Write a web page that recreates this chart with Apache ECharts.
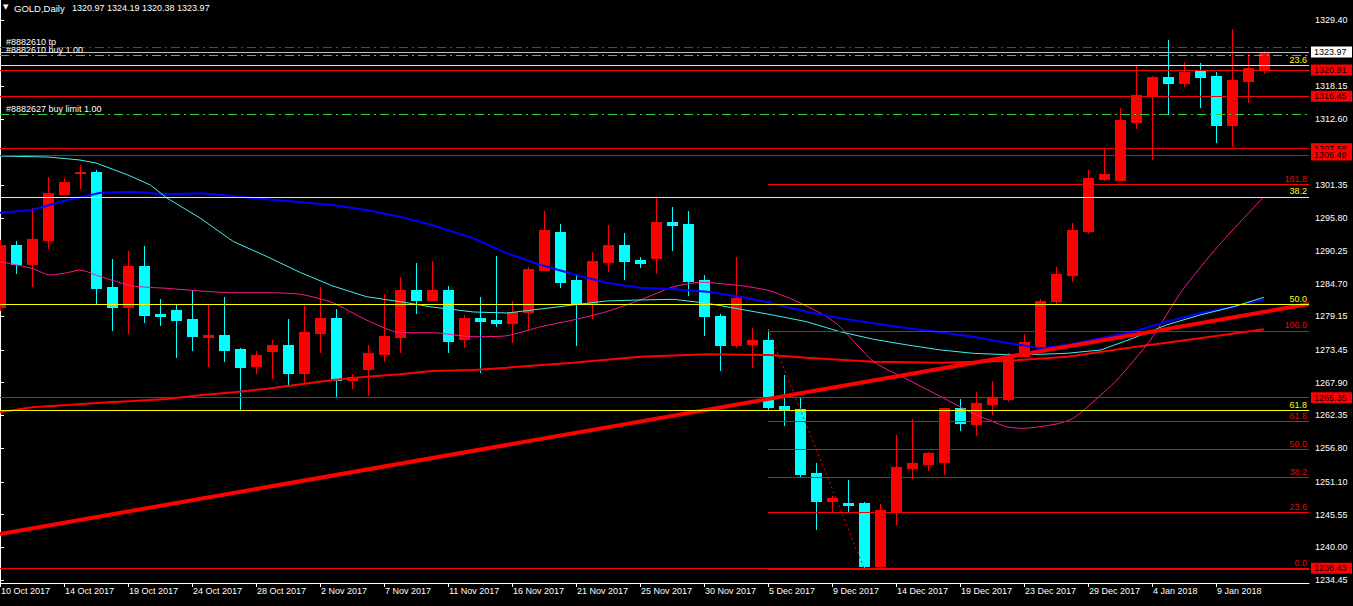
<!DOCTYPE html>
<html><head><meta charset="utf-8">
<script src="https://cdn.jsdelivr.net/npm/echarts@6/dist/echarts.min.js"></script>
<style>html,body{margin:0;padding:0;background:#000;}#c{width:1353px;height:606px;}</style>
</head><body><div id="c"></div>
<script>
const symbolName = 'GOLD,Daily';
const dates = ['10 Oct 2017','11 Oct 2017','12 Oct 2017','13 Oct 2017','14 Oct 2017','16 Oct 2017','17 Oct 2017','18 Oct 2017','19 Oct 2017','20 Oct 2017','21 Oct 2017','23 Oct 2017','24 Oct 2017','25 Oct 2017','26 Oct 2017','27 Oct 2017','28 Oct 2017','30 Oct 2017','31 Oct 2017','1 Nov 2017','2 Nov 2017','3 Nov 2017','4 Nov 2017','6 Nov 2017','7 Nov 2017','8 Nov 2017','9 Nov 2017','10 Nov 2017','11 Nov 2017','13 Nov 2017','14 Nov 2017','15 Nov 2017','16 Nov 2017','17 Nov 2017','18 Nov 2017','20 Nov 2017','21 Nov 2017','22 Nov 2017','23 Nov 2017','24 Nov 2017','25 Nov 2017','27 Nov 2017','28 Nov 2017','29 Nov 2017','30 Nov 2017','1 Dec 2017','2 Dec 2017','4 Dec 2017','5 Dec 2017','6 Dec 2017','7 Dec 2017','8 Dec 2017','9 Dec 2017','11 Dec 2017','12 Dec 2017','13 Dec 2017','14 Dec 2017','15 Dec 2017','16 Dec 2017','18 Dec 2017','19 Dec 2017','20 Dec 2017','21 Dec 2017','22 Dec 2017','23 Dec 2017','26 Dec 2017','27 Dec 2017','28 Dec 2017','29 Dec 2017','30 Dec 2017','2 Jan 2018','3 Jan 2018','4 Jan 2018','5 Jan 2018','6 Jan 2018','8 Jan 2018','9 Jan 2018','10 Jan 2018','11 Jan 2018','12 Jan 2018'];
const opens = [1280.74,1291.25,1288.08,1292.15,1299.95,1303.54,1303.63,1284.13,1280.79,1287.69,1279.60,1280.23,1278.70,1275.70,1276.04,1273.62,1270.79,1273.33,1274.30,1269.60,1276.38,1278.87,1268.41,1270.28,1272.82,1275.70,1283.62,1281.98,1283.62,1275.36,1278.87,1278.53,1278.08,1279.89,1287.06,1293.45,1285.32,1281.25,1288.42,1291.25,1288.71,1289.10,1295.15,1294.81,1285.32,1279.21,1274.35,1274.52,1275.14,1263.95,1263.44,1252.59,1247.85,1247.56,1247.51,1236.88,1246.20,1253.49,1254.17,1254.51,1263.61,1260.95,1264.34,1265.14,1272.48,1274.13,1281.76,1286.16,1293.62,1302.44,1302.27,1312.10,1316.63,1319.73,1318.72,1320.92,1319.90,1311.60,1319.06,1320.97];
const highs = [1292.10,1291.93,1297.47,1302.78,1302.66,1304.81,1303.97,1288.88,1290.23,1291.08,1282.09,1281.08,1283.62,1281.13,1282.48,1273.79,1273.28,1275.14,1278.70,1280.91,1284.13,1280.40,1269.43,1274.30,1282.94,1285.82,1288.20,1288.54,1284.30,1279.38,1282.43,1289.39,1281.76,1287.52,1297.01,1294.81,1285.99,1290.06,1294.64,1293.28,1289.22,1299.39,1297.69,1297.01,1286.16,1279.55,1289.22,1277.18,1277.01,1269.21,1265.36,1254.29,1248.69,1251.41,1247.73,1247.34,1259.04,1261.75,1256.20,1263.61,1265.14,1266.33,1268.19,1272.94,1276.16,1282.09,1287.52,1294.98,1303.97,1307.53,1314.48,1321.60,1319.90,1326.01,1322.28,1322.11,1320.58,1327.87,1323.63,1324.19];
const lows = [1280.23,1286.55,1284.35,1290.79,1299.90,1300.91,1281.25,1276.84,1276.38,1278.25,1277.74,1272.31,1273.50,1270.79,1271.63,1263.49,1269.60,1268.75,1267.34,1267.73,1273.16,1265.53,1267.06,1265.87,1271.63,1273.16,1279.77,1281.92,1273.16,1274.01,1269.77,1277.57,1274.85,1277.06,1287.01,1284.18,1274.35,1278.92,1286.89,1285.54,1287.57,1286.55,1290.45,1282.82,1276.04,1270.11,1274.01,1270.62,1263.49,1260.78,1252.14,1243.15,1246.03,1246.03,1236.43,1236.54,1244.00,1251.80,1253.15,1252.47,1259.93,1259.09,1262.65,1264.85,1272.43,1273.96,1281.25,1285.15,1293.28,1302.27,1302.19,1311.09,1305.83,1313.46,1318.21,1314.65,1308.71,1308.04,1315.50,1320.38];
const closes = [1291.25,1288.08,1292.27,1300.07,1301.93,1303.71,1284.01,1280.79,1287.69,1279.43,1279.26,1278.58,1275.87,1276.04,1273.50,1270.62,1272.60,1274.30,1269.60,1276.50,1278.87,1268.41,1268.87,1272.94,1275.82,1283.62,1281.98,1283.62,1275.02,1278.87,1278.42,1278.08,1279.89,1287.18,1293.79,1285.03,1281.42,1288.54,1291.25,1288.59,1288.25,1295.15,1294.69,1285.20,1279.26,1274.35,1282.31,1275.14,1263.83,1263.33,1252.47,1247.90,1248.35,1247.22,1236.88,1246.32,1253.61,1254.29,1255.98,1263.61,1261.02,1264.46,1265.43,1272.48,1274.80,1281.76,1286.33,1293.79,1302.61,1303.29,1312.44,1316.63,1319.73,1318.72,1320.58,1319.73,1311.60,1319.23,1321.26,1323.97];

// moving averages: [bar index, price]
const maCyan = [[0,1306.34],[3,1306.17],[5,1305.66],[6,1305.15],[8,1303.12],[9.4,1301.42],[10.4,1299.27],[12.5,1295.83],[14.6,1291.81],[16.7,1289.27],[18.8,1286.55],[20.8,1284.30],[22.9,1282.49],[25,1281.64],[27,1280.74],[29.6,1279.89],[31.7,1279.72],[33.8,1280.40],[35.8,1281.08],[37.9,1281.76],[40,1281.93],[42.1,1282.04],[44.2,1281.37],[46.3,1280.35],[48.3,1279.38],[50.4,1278.25],[52.5,1276.55],[54.6,1275.26],[56.7,1274.30],[58.8,1273.45],[60.8,1272.89],[62.9,1272.65],[65,1272.72],[66.7,1272.89],[68.8,1273.45],[70.8,1275.43],[72.9,1277.69],[75,1279.38],[77.1,1280.79],[79,1282.38]];
const maBlue = [[0,1296.73],[2,1297.18],[4.2,1298.88],[6.3,1300.12],[8.3,1300.29],[10.4,1299.85],[12.5,1300.02],[14.6,1299.56],[16.7,1299.00],[18.8,1298.49],[20.8,1298.03],[22.9,1297.18],[25,1296.05],[27,1294.64],[29.6,1292.38],[31.7,1289.84],[33.8,1287.86],[35.8,1286.33],[37.9,1284.86],[40,1284.01],[42.1,1283.74],[44.2,1283.33],[46.3,1282.49],[48.1,1281.47],[50.4,1279.94],[52.5,1278.82],[54.6,1277.97],[56.7,1277.13],[58.8,1276.45],[60.8,1275.70],[62.9,1274.69],[65,1273.73],[66.7,1274.30],[68.8,1275.43],[70.8,1276.55],[72.9,1278.25],[75,1279.67],[77.1,1280.79],[79,1282.04]];
const maPink = [[0,1288.42],[2,1287.30],[3.1,1286.16],[4.2,1286.55],[5,1287.01],[6.3,1285.87],[8.3,1284.30],[10.4,1283.91],[12.5,1283.45],[14.6,1283.16],[16.7,1283.16],[18.8,1282.89],[20.8,1281.47],[22.9,1278.53],[25,1276.38],[27,1276.38],[29.6,1275.70],[31.7,1275.87],[33.8,1277.40],[35.8,1278.53],[37.9,1279.94],[40,1281.93],[42.1,1284.18],[43.8,1284.93],[46.3,1284.35],[48.1,1283.50],[49.6,1281.93],[51.5,1279.38],[52.5,1277.40],[54.6,1271.46],[56.7,1268.48],[58.8,1265.53],[60.8,1262.72],[62.9,1260.44],[63.9,1260.17],[65,1260.44],[66.2,1261.00],[67.1,1261.90],[68.1,1264.12],[69.8,1268.36],[71.9,1275.14],[73.9,1283.60],[76.1,1290.96],[78.9,1299.17]];
const maRed = [[0,1262.88],[2,1263.73],[4.2,1264.12],[6.3,1264.51],[8.3,1264.80],[10.4,1265.14],[12.5,1265.77],[14.6,1266.27],[16.7,1266.89],[18.8,1267.63],[20.8,1268.36],[22.9,1268.92],[25,1269.33],[27,1269.89],[29.6,1270.06],[31.7,1270.45],[35.8,1271.30],[40,1272.31],[44.2,1272.72],[48.1,1272.60],[50.4,1272.14],[54.6,1271.46],[58.8,1271.29],[62.9,1271.58],[66.7,1272.31],[70.8,1273.90],[75,1275.43],[79,1276.96]];

const trendLine = [[0,1242.25],[81.8125,1281.25]];
const fibBase = [[48,1277.01],[54,1236.43]];
const redFibLevels = ['0.0','23.6','38.2','50.0','61.8','100.0','161.8'];
const redFibPrices = [1236.43,1245.93,1251.80,1256.55,1261.30,1276.67,1301.54];
const yellowFibLevels = ['23.6','38.2','50.0','61.8'];
const yellowFibPrices = [1321.68,1299.39,1281.20,1263.22];
const redLinePrices = [1320.91,1316.45,1307.58,1306.49,1265.35,1236.43];
const bidPrice = 1323.97;
const orderNames = ['#8882610 tp','#8882610 buy 1.00','#8882627 buy limit 1.00'];
const orderPrices = [1324.77,1323.41,1313.46];
const yTicks = [1234.45,1240.00,1245.55,1251.10,1256.80,1262.35,1267.90,1273.45,1279.15,1284.70,1290.25,1295.80,1301.35,1312.60,1318.15,1329.40];
const xTickIdx = [0,4,8,12,16,20,24,28,32,36,40,44,48,52,56,60,64,68,72,76];

const FONT = 'Liberation Sans';
const X_MAX = 81.8125;
const RED = '#FF0000', CYAN = '#00FFFF', YEL = '#FFFF00', GRN = '#33CC33';
const chart = echarts.init(document.getElementById('c'), null, {renderer:'svg'});

const candleData = dates.map((d,i)=>[i, opens[i], closes[i], lows[i], highs[i]]);

const boxLabel = (txt, bg) => ({show:true, position:'end', distance:2, formatter:txt, color:'#000', backgroundColor:bg,
    fontFamily:FONT, fontSize:9, width:38, height:11, lineHeight:11, padding:[0,0,0,3]});

const markItems = [];
redLinePrices.forEach(p=>markItems.push({yAxis:p, lineStyle:{color:RED,width:1,type:'solid'}, label:boxLabel(p.toFixed(2), RED)}));
markItems.push({yAxis:bidPrice, lineStyle:{color:'#C0C0C0',width:1,type:'solid'}, label:boxLabel(bidPrice.toFixed(2), '#FFFFFF')});
const orderColors = [RED, GRN, GRN];
orderPrices.forEach((p,i)=>markItems.push({yAxis:p, lineStyle:{color:orderColors[i],width:1,type:[9,4,2,4]},
  label:{show:true, position:'insideStartTop', distance:[6,1], formatter:orderNames[i], color:'#FFFFFF', fontFamily:FONT, fontSize:9}}));
yellowFibPrices.forEach((p,i)=>markItems.push({yAxis:p, lineStyle:{color:YEL,width:1,type:'solid'},
  label:{show:true, position:'insideEndTop', distance:[2,1], formatter:yellowFibLevels[i], color:YEL, fontFamily:FONT, fontSize:9}}));
redFibPrices.forEach((p,i)=>markItems.push([
  {coord:[fibBase[0][0], p], lineStyle:{color:RED,width:(i===0?2:1),type:'solid'},
   label:{show:true, position:'insideEndTop', distance:[2,1], formatter:redFibLevels[i], color:'#EE0000', fontFamily:FONT, fontSize:9}},
  {coord:[X_MAX, p]}]));

const option = {
  backgroundColor:'#000',
  animation:false,
  grid:{left:0, right:44, top:0, bottom:23, containLabel:false, outerBoundsMode:'none'},
  xAxis:{type:'value', min:0, max:X_MAX, position:'bottom',
    axisLine:{show:true, lineStyle:{color:'#FFFFFF', width:1}},
    axisTick:{show:true, inside:false, length:4, customValues:xTickIdx, lineStyle:{color:'#FFFFFF'}},
    axisLabel:{show:true, customValues:xTickIdx, formatter:v=>dates[Math.round(v)]||'', align:'left', margin:3,
      padding:[0,0,0,1], color:'#FFFFFF', fontFamily:FONT, fontSize:9},
    splitLine:{show:false}},
  yAxis:{type:'value', position:'right', min:1233.94, max:1332.79, scale:true,
    axisLine:{show:true, lineStyle:{color:'#FFFFFF', width:1}},
    axisTick:{show:true, inside:false, length:4, customValues:yTicks, lineStyle:{color:'#FFFFFF'}},
    axisLabel:{show:true, customValues:yTicks, formatter:v=>v.toFixed(2), margin:6, color:'#FFFFFF', fontFamily:FONT, fontSize:9},
    splitLine:{show:false}},
  graphic:[
    {type:'text', left:3, top:3, style:{text:'▼', fill:'#FFFFFF', font:'7px "DejaVu Sans"'}},
    {type:'text', left:14, top:3, style:{text:symbolName, fill:'#FFFFFF', font:'9.5px "Liberation Sans"'}},
    {type:'text', left:72, top:3, style:{text:[opens[79],highs[79],lows[79],closes[79]].map(v=>v.toFixed(2)).join(' '), fill:'#FFFFFF', font:'9px "Liberation Sans"'}}
  ],
  series:[
    {type:'custom', name:'candles', z:1, clip:true, data:candleData, encode:{x:0, y:[1,2,3,4]},
     renderItem:(params, api)=>{
       const i = api.value(0);
       const pO = api.coord([i, api.value(1)]), pC = api.coord([i, api.value(2)]);
       const pL = api.coord([i, api.value(3)]), pH = api.coord([i, api.value(4)]);
       const cx = Math.floor(pO[0]);
       const up = api.value(2) >= api.value(1);
       const col = up ? RED : CYAN;
       const top = Math.round(Math.min(pO[1], pC[1])), bot = Math.round(Math.max(pO[1], pC[1]));
       return {type:'group', children:[
         {type:'line', shape:{x1:cx+0.5, y1:Math.round(pH[1]), x2:cx+0.5, y2:Math.round(pL[1])+1}, style:{stroke:col, lineWidth:1}},
         {type:'rect', shape:{x:cx-5, y:top, width:11, height:Math.max(2, bot-top+1)}, style:{fill:col}}
       ]};
     }},
    {type:'line', name:'MA red', z:3, data:maRed, showSymbol:false, lineStyle:{color:RED, width:2}},
    {type:'line', name:'MA pink', z:3, data:maPink, showSymbol:false, smooth:0.2, lineStyle:{color:'#FF1493', width:1}},
    {type:'line', name:'MA blue', z:3, data:maBlue, showSymbol:false, lineStyle:{color:'#0000FF', width:2}},
    {type:'line', name:'MA cyan', z:3, data:maCyan, showSymbol:false, lineStyle:{color:'#40F0F0', width:1}},
    {type:'line', name:'trend', z:4, data:trendLine, showSymbol:false, lineStyle:{color:RED, width:4}},
    {type:'line', name:'fib base', z:4, data:fibBase, showSymbol:false, lineStyle:{color:RED, width:1, type:[2,3]}},
    {type:'line', name:'levels', z:2, data:[], markLine:{silent:true, symbol:['none','none'], animation:false, precision:2, data:markItems}}
  ]
};
chart.setOption(option);
</script></body></html>
